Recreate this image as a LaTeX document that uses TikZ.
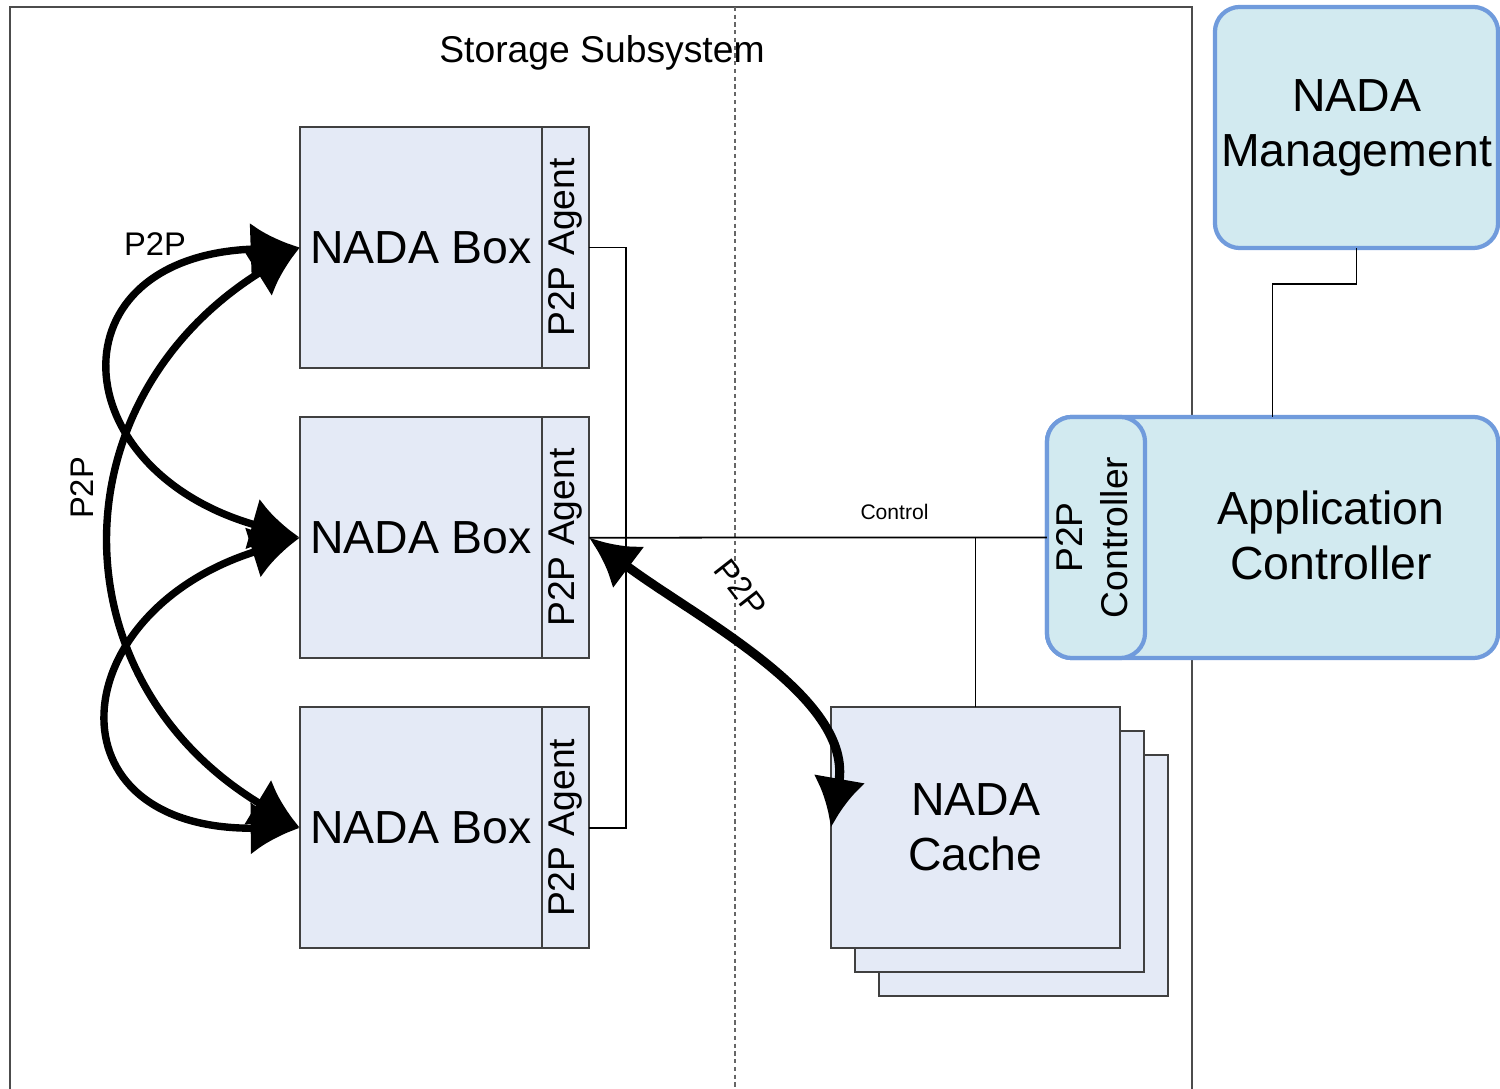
\documentclass[tikz,border=0pt]{standalone}
\usepackage{fontspec}
\setmainfont{Liberation Sans}
\usetikzlibrary{arrows.meta,positioning}

\definecolor{boxfill}{RGB}{228,234,246}
\definecolor{ctrlfill}{RGB}{210,234,240}
\definecolor{ctrlline}{RGB}{112,155,220}

\begin{document}
\begin{tikzpicture}[x=0.01cm,y=-0.01cm,
  every node/.style={inner sep=0pt,outer sep=0pt},
  big/.style={font=\fontsize{13.2}{15.6}\selectfont},
  mid/.style={font=\fontsize{10.6}{12.8}\selectfont},
  small/.style={font=\fontsize{9.3}{11}\selectfont},
  nadabox/.style={big,draw=black!75,fill=boxfill,line width=0.6pt,minimum width=2.42cm,minimum height=2.41cm},
  agentbox/.style={mid,draw=black!75,fill=boxfill,line width=0.6pt,minimum width=0.47cm,minimum height=2.41cm},
  cachebox/.style={big,draw=black!75,fill=boxfill,line width=0.6pt,minimum width=2.89cm,minimum height=2.41cm,align=center},
  ctrlbox/.style={draw=ctrlline,fill=ctrlfill,line width=1.2pt,rounded corners=0.25cm},
  wire/.style={line width=0.5pt},
  p2p/.style={line width=2.1pt,{Latex[length=14pt,width=15pt]}-{Latex[length=14pt,width=15pt]}}
]
  \useasboundingbox (0,0) rectangle (1500,1089);
  \draw[black!70,line width=0.6pt] (10,1089) |- (1192,7) -- (1192,1089);
  \draw[black!60,line width=0.5pt,dash pattern=on 1.2pt off 1pt] (735,7) -- (735,1089);
  \node[mid] (title) at (602,53) {Storage Subsystem};

  \node[nadabox] (box1) at (421,247.5) {NADA Box};
  \node[agentbox,right=0pt of box1] (agent1) {\rotatebox{90}{P2P Agent}};
  \node[nadabox,below=0.49cm of box1] (box2) {NADA Box};
  \node[agentbox,right=0pt of box2] (agent2) {\rotatebox{90}{P2P Agent}};
  \node[nadabox,below=0.49cm of box2] (box3) {NADA Box};
  \node[agentbox,right=0pt of box3] (agent3) {\rotatebox{90}{P2P Agent}};

  \node[cachebox] (cache3) at (1023.5,875.5) {};
  \node[cachebox] (cache2) at (999.5,851.5) {};
  \node[cachebox] (cache) at (975.5,827.5) {NADA\\Cache};

  \node[ctrlbox,minimum width=4.51cm,minimum height=2.41cm] (app) at (1272.5,537.5) {};
  \node[ctrlbox,mid,minimum width=0.98cm,minimum height=2.41cm] (pctrl) at (1096,537.5)
    {\rotatebox{90}{\begin{tabular}{@{}c@{}}P2P\\Controller\end{tabular}}};
  \node[big,align=center] (apptxt) at (1331,535) {Application\\Controller};
  \node[ctrlbox,big,align=center,minimum width=2.83cm,minimum height=2.41cm] (mgmt) at (1356.5,127.5) {NADA\\Management};

  \draw[wire] (agent1.east) -- ++(37,0) |- (agent3.east);
  \draw[wire] (agent2.east) -- node[above=5pt,pos=0.667,font=\fontsize{6}{7}\selectfont] (ctl) {Control} (pctrl.west);
  \draw[wire] (cache.north) -- (cache.north |- agent2.east);
  \draw[wire] (mgmt.south) -- ++(0,36) -| (app.north);

  \draw[p2p] (box1.west) .. controls (50,256) and (62,470) .. (box2.west);
  \draw[p2p] (box1.west) .. controls (55,400) and (55,680) .. (box3.west);
  \draw[p2p] (box2.west) .. controls (62,612) and (45,830) .. (box3.west);
  \draw[p2p,line width=2.6pt] (agent2.east) to[out=-37,in=80,looseness=0.9] (cache.west);

  \node[small] (lbltop) at (155,244) {P2P};
  \node[small,rotate=90] (lblleft) at (82,488) {P2P};
  \node[small,rotate=-52] (lblcache) at (741,588) {P2P};
\end{tikzpicture}
\end{document}
